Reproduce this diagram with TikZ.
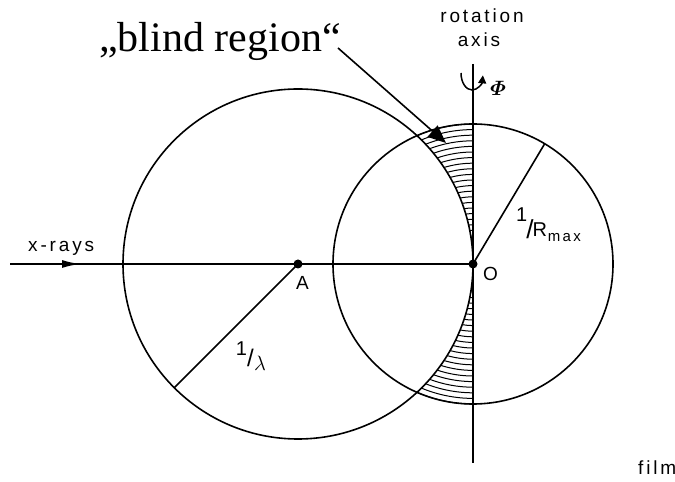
\documentclass[tikz,border=0pt]{standalone}
\usepackage{amsmath}
\usepackage{fontspec}
\setmainfont{Liberation Serif}
\newfontfamily\labfont[LetterSpace=15]{Liberation Sans}
\newfontfamily\labplain{Liberation Sans}
\usetikzlibrary{arrows.meta}
\begin{document}
\begin{tikzpicture}[x=1pt,y=1pt,
  line/.style={line width=1.6pt},
  hatch/.style={line width=1pt},
  lab/.style={font=\fontsize{19}{24}\labfont, inner sep=0pt},
  fraclab/.style={font=\fontsize{20}{24}\labplain, inner sep=0pt},
  dot/.style={circle,fill,inner sep=0pt,minimum size=9pt}]
\useasboundingbox (0,0) rectangle (675,482);
\coordinate (A) at (298,218);
\coordinate (O) at (473,218);
% hatching (concentric arcs about O, blind region)
\foreach \k in {1,...,25}{
  \pgfmathsetmacro\rr{\k*5.6}
  \pgfmathsetmacro\ang{asin(\rr/350)}
  \draw[hatch] ([shift={(0,\rr)}]O) arc[start angle=90,end angle={90+\ang},radius=\rr];
  \draw[hatch] ([shift={(0,-\rr)}]O) arc[start angle=270,end angle={270-\ang},radius=\rr];
}
% circles
\draw[line] (A) circle[radius=175];
\draw[line] (O) circle[radius=140];
% rotation axis
\coordinate (axtop) at (473,418);
\coordinate (axbot) at (473,19);
\draw[line] (axtop) -- (axbot);
% x-ray beam
\coordinate (src) at (10,218);
\coordinate (arrtip) at (80,218);
\draw[line] (src) -- (O);
\draw[line,-{Latex[length=18pt,width=8pt]}] (src) -- (arrtip);
% radii
\coordinate (L) at ([shift={(225:175)}]A);
\coordinate (Rm) at ([shift={(59.2:140)}]O);
\draw[line] (A) -- (L);
\draw[line] (O) -- (Rm);
% points
\node[dot] (Adot) at (A) {};
\node[dot] (Odot) at (O) {};
% rotation symbol
\coordinate (rotstart) at (461,409);
\draw[line width=1.5pt,-{Triangle[length=8pt,width=8pt]}] (rotstart) arc[start angle=180,end angle=352,x radius=11,y radius=17];
\node[inner sep=0pt] (phi) at (498,394) {\fontsize{21}{21}\selectfont$\boldsymbol{\varPhi}$};
% labels
\node[lab,anchor=base] (rot) at (482,459) {rotation};
\node[lab,anchor=base] (axis) at (479,435) {axis};
\node[lab,anchor=base west] (xr) at (28,230) {x-rays};
\node[lab,anchor=base west] (Alab) at (296,192) {A};
\node[lab,anchor=base west] (Olab) at (483,201) {O};
\node[lab,anchor=base west] (film) at (638,7) {film};
\node[fraclab] (lam) at (251,126) {\raisebox{8pt}{1}\raisebox{-3pt}{\fontsize{24}{24}\selectfont/}\kern0.5pt\raisebox{-7pt}{\fontsize{22}{22}\selectfont$\lambda$}};
\node[fraclab,anchor=base west] (rmax) at (516,245) {\raisebox{15pt}{1}\kern-1pt\raisebox{-2pt}{\fontsize{26}{26}\selectfont/}\kern-1pt R\kern1pt\raisebox{-5pt}{\fontsize{15}{15}\labfont max}};
% blind region label and arrow
\node[anchor=base west,inner sep=0pt,font=\fontsize{42}{42}\selectfont] (blind) at (99,430) {„blind region“};
\coordinate (bstart) at (338,434);
\coordinate (btip) at (446,339);
\draw[line,-{Triangle[length=18pt,width=15pt]}] (bstart) -- (btip);
\end{tikzpicture}
\end{document}
